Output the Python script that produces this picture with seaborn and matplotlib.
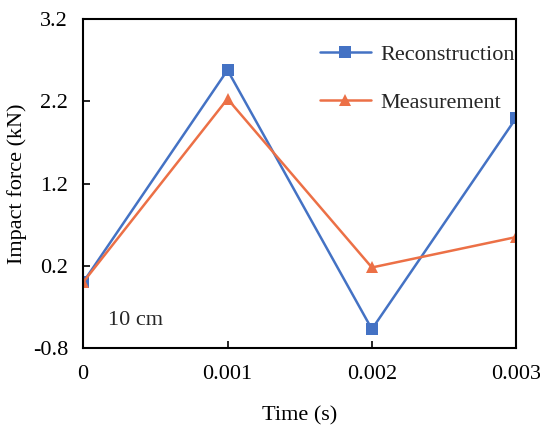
import pandas as pd
import matplotlib.pyplot as plt
import seaborn as sns

# data
time = [0, 0.001, 0.002, 0.003]
reconstruction = [0.0, 2.58, -0.57, 2.0]
measurement = [0.0, 2.23, 0.18, 0.55]

df = pd.DataFrame({
    "Time": time * 2,
    "Force": reconstruction + measurement,
    "Series": ["Reconstruction"] * 4 + ["Measurement"] * 4,
})

sns.set_theme(style="white")
plt.rcParams["font.family"] = ["Liberation Serif", "DejaVu Serif"]

fig = plt.figure(figsize=(5.4, 4.25), dpi=100)
ax = fig.add_axes([0.154, 0.181, 0.802, 0.774])

sns.lineplot(data=df, x="Time", y="Force", hue="Series", style="Series",
             palette={"Reconstruction": "#4472C4", "Measurement": "#EC7046"},
             markers={"Reconstruction": "s", "Measurement": "^"},
             dashes=False, markersize=8, markeredgewidth=0, linewidth=1.8, ax=ax)

ax.set_xlim(0, 0.003)
ax.set_ylim(-0.8, 3.2)
ax.set_xticks([0, 0.001, 0.002, 0.003])
ax.set_xticklabels(["0", "0.001", "0.002", "0.003"])
ax.set_yticks([-0.8, 0.2, 1.2, 2.2, 3.2])
ax.set_yticklabels(["-0.8", "0.2", "1.2", "2.2", "3.2"])
ax.tick_params(axis="both", direction="in", length=5, width=1.2, labelsize=16,
               colors="black", pad=12, left=True, bottom=True)
ax.tick_params(axis="y", pad=11)
ax.set_xlabel("Time (s)", fontsize=16, color="black", labelpad=16)
ax.set_ylabel("Impact force (kN)", fontsize=16, color="black", labelpad=4)
for sp in ax.spines.values():
    sp.set_color("black")
    sp.set_linewidth(1.5)

ax.text(0.058, 0.07, "10 cm", transform=ax.transAxes, fontsize=16)

leg = ax.legend(frameon=False, fontsize=16, loc="upper right",
                bbox_to_anchor=(1.042, 0.985), labelspacing=1.25,
                handlelength=2.3, handletextpad=0.4)
leg.set_title(None)

fig.savefig("out.png", dpi=100)
